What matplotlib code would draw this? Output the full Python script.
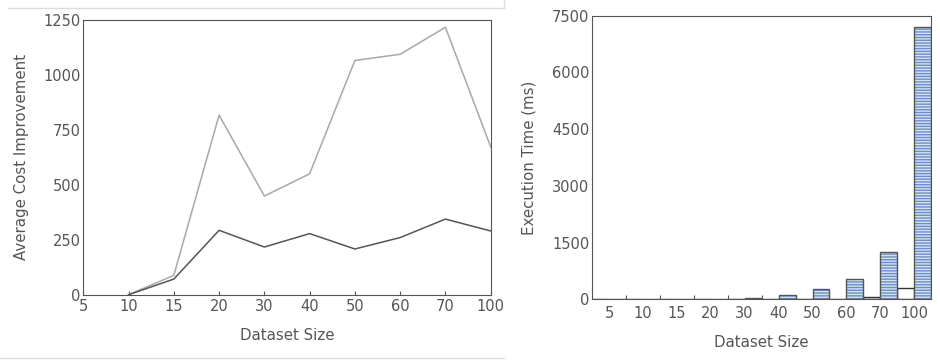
import numpy as np
import matplotlib
matplotlib.use("Agg")
import matplotlib.pyplot as plt
from matplotlib.lines import Line2D

sizes = ['5', '10', '15', '20', '30', '40', '50', '60', '70', '100']
# cost improvement, no value at size 5
cost_upper = [np.nan, 0, 88, 817, 449, 550, 1066, 1094, 1217, 673]
cost_lower = [np.nan, 0, 71, 293, 217, 278, 208, 260, 344, 290]
# execution time (ms)
time_white = [2, 2, 2, 2, 3, 5, 8, 16, 53, 299]
time_blue = [1, 1, 1, 2, 25, 106, 264, 545, 1262, 7202]

txt = '#555555'
plt.rcParams['font.family'] = ['DejaVu Sans']
plt.rcParams['font.size'] = 10.5
plt.rcParams['text.color'] = txt
plt.rcParams['axes.labelcolor'] = txt
plt.rcParams['xtick.color'] = txt
plt.rcParams['ytick.color'] = txt
plt.rcParams['axes.edgecolor'] = '#555555'

fig = plt.figure(figsize=(9.4, 3.6), dpi=100)

# left: line chart
ax1 = fig.add_axes([0.0886, 0.1814, 0.4334, 0.763])
x = np.arange(len(sizes))
ax1.plot(x, cost_upper, color='#a8a8a8', lw=1.1)
ax1.plot(x, cost_lower, color='#555555', lw=1.1)
ax1.set_xlim(0, 9)
ax1.set_ylim(0, 1250)
ax1.set_xticks(x)
ax1.set_xticklabels(sizes)
ax1.set_yticks([0, 250, 500, 750, 1000, 1250])
ax1.tick_params(axis='x', direction='in', length=3, pad=3, top=False)
ax1.tick_params(axis='y', length=0, pad=2, right=False)
ax1.set_xlabel('Dataset Size', fontsize=10.8, labelpad=10)
ax1.set_ylabel('Average Cost Improvement', fontsize=10.8, labelpad=10)

# right: grouped bars
ax2 = fig.add_axes([0.6298, 0.1686, 0.3609, 0.7878])
w = 0.5
ax2.bar(x, time_white, w, align='edge', color='white',
        edgecolor='#333333', lw=1.0)
ax2.bar(x + w, time_blue, w, align='edge', color='#d6e2f2',
        edgecolor='#6a8fc8', hatch='------', lw=0)
ax2.bar(x + w, time_blue, w, align='edge', fill=False,
        edgecolor='#555555', lw=1.0)
ax2.set_xlim(0, 10)
ax2.set_ylim(0, 7500)
ax2.set_yticks([0, 1500, 3000, 4500, 6000, 7500])
ax2.set_xticks(np.arange(1, 10))
ax2.set_xticklabels([])
ax2.set_xticks(x + 0.5, minor=True)
ax2.set_xticklabels(sizes, minor=True)
ax2.tick_params(axis='x', which='major', direction='in', length=3)
ax2.tick_params(axis='x', which='minor', length=0, pad=5)
ax2.tick_params(axis='y', length=0, pad=2)
ax2.set_xlabel('Dataset Size', fontsize=10.8, labelpad=10)
ax2.set_ylabel('Execution Time (ms)', fontsize=10.8, labelpad=11)

# page separators around the left image
sep = '#dddddd'
fig.add_artist(Line2D([8 / 940, 504 / 940], [1 - 8 / 360, 1 - 8 / 360], color=sep, lw=1))
fig.add_artist(Line2D([504 / 940, 504 / 940], [1 - 8 / 360, 1.0], color=sep, lw=1))
fig.add_artist(Line2D([0, 504 / 940], [1 - 358 / 360, 1 - 358 / 360], color=sep, lw=1))

fig.savefig('out.png', dpi=100)
